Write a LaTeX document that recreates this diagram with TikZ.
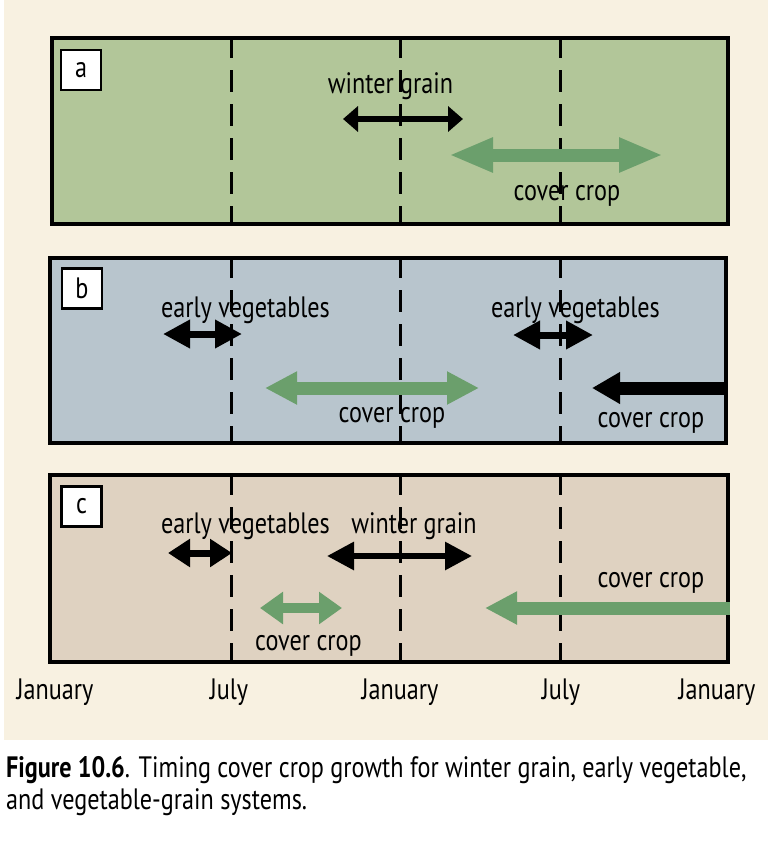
\documentclass[tikz,border=0pt]{standalone}
\usepackage{fontspec}
\setmainfont{PT Sans}[FakeStretch=0.82]
\usetikzlibrary{arrows.meta}
\definecolor{bgbeige}{HTML}{F8F1E1}
\definecolor{panelA}{HTML}{B2C699}
\definecolor{panelB}{HTML}{B8C5CD}
\definecolor{panelC}{HTML}{DFD2C1}
\definecolor{cgreen}{HTML}{6B9F6C}
\tikzset{
  panel/.style={draw=black, line width=3.3pt, inner sep=0pt, rectangle},
  tagbox/.style={draw=black, fill=white, line width=2.5pt, minimum width=40pt, minimum height=40pt, inner sep=0pt, font=\fontsize{29.5}{34}\selectfont},
  vdash/.style={draw=black, line width=3pt, dash pattern=on 22pt off 12pt},
  lab/.style={anchor=base, inner sep=0pt, font=\fontsize{29.5}{34}\selectfont},
  greenarrow/.style={draw=cgreen, line width=13pt},
  blackarrow/.style={draw=black, line width=6pt},
  captext/.style={anchor=base west, inner sep=0pt, font=\fontsize{29.5}{34}\selectfont},
}
\begin{document}
\begin{tikzpicture}[x=1pt,y=-1pt]
\useasboundingbox (0,0) rectangle (768,841);
\fill[bgbeige] (4,0) rectangle (768,740);

% panels
\node[panel, fill=panelA, minimum width=676pt, minimum height=186pt] (pa) at (390,131) {};
\node[panel, fill=panelB, minimum width=676pt, minimum height=185pt] (pb) at (388,350.5) {};
\node[panel, fill=panelC, minimum width=678pt, minimum height=187pt] (pc) at (389,568.5) {};

% month guide coordinates
\coordinate (g1) at (231,0);
\coordinate (g2) at (400,0);
\coordinate (g3) at (560,0);

% dashed lines
\foreach \p in {pa,pb,pc}{
  \foreach \g in {g1,g2,g3}{
    \draw[vdash] (\p.north -| \g) -- (\p.south -| \g);
  }
}

% tags
\node[tagbox] (ta) at (81,70) {a};
\node[tagbox] (tb) at (82,288.5) {b};
\node[tagbox] (tc) at (81.5,506.5) {c};

% ---- panel a ----
\coordinate (aw1) at (343,119);
\coordinate (aw2) at (463,119);
\draw[blackarrow, {Triangle[length=15pt,width=25pt]}-{Triangle[length=15pt,width=25pt]}] (aw1) -- (aw2);
\node[lab] (law) at (390.5,93) {winter grain};
\coordinate (ac1) at (449,155);
\coordinate (ac2) at (663,155);
\draw[greenarrow, {Triangle[length=44pt,width=32pt]}-{Triangle[length=44pt,width=32pt]}] (ac1) -- (ac2);
\node[lab] (lac) at (567,200) {cover crop};

% ---- panel b ----
\coordinate (be1) at (163,334);
\coordinate (be2) at (242,334);
\draw[blackarrow, line width=7pt, {Triangle[length=27pt,width=27pt]}-{Triangle[length=27pt,width=27pt]}] (be1) -- (be2);
\node[lab] (lbe) at (245.5,317) {early vegetables};
\coordinate (bc1) at (265,388);
\coordinate (bc2) at (479,388);
\draw[greenarrow, {Triangle[length=32pt,width=31pt]}-{Triangle[length=32pt,width=31pt]}] (bc1) -- (bc2);
\node[lab] (lbc) at (392,422) {cover crop};
\coordinate (bf1) at (513,335);
\coordinate (bf2) at (593,335);
\draw[blackarrow, line width=7pt, {Triangle[length=27pt,width=27pt]}-{Triangle[length=27pt,width=27pt]}] (bf1) -- (bf2);
\node[lab] (lbf) at (575.5,317) {early vegetables};
\coordinate (bk1) at (pb.east |- 0,388);
\coordinate (bk2) at (592,388);
\draw[blackarrow, line width=13pt, -{Triangle[length=28pt,width=30pt]}] (bk1) -- (bk2);
\node[lab] (lbk) at (651,427) {cover crop};

% ---- panel c ----
\coordinate (ce1) at (168,553);
\coordinate (ce2) at (232,553);
\draw[blackarrow, line width=7pt, {Triangle[length=22pt,width=27pt]}-{Triangle[length=22pt,width=27pt]}] (ce1) -- (ce2);
\node[lab] (lce) at (245.5,533) {early vegetables};
\coordinate (cw1) at (327,556);
\coordinate (cw2) at (472,556);
\draw[blackarrow, {Triangle[length=27pt,width=27pt]}-{Triangle[length=27pt,width=27pt]}] (cw1) -- (cw2);
\node[lab] (lcw) at (414,533) {winter grain};
\coordinate (cs1) at (260,608);
\coordinate (cs2) at (342,608);
\draw[greenarrow, line width=10pt, {Triangle[length=23pt,width=31pt]}-{Triangle[length=23pt,width=31pt]}] (cs1) -- (cs2);
\node[lab] (lcs) at (308.5,650) {cover crop};
\coordinate (cr1) at (pc.east |- 0,608);
\coordinate (cr2) at (485,608);
\draw[greenarrow, -{Triangle[length=32pt,width=31pt]}] (cr1) -- (cr2);
\node[lab] (lcr) at (651,587) {cover crop};

% months
\node[lab] (m1) at (55,699) {January};
\node[lab] (m2) at (229,699) {July};
\node[lab] (m3) at (400,699) {January};
\node[lab] (m4) at (561,699) {July};
\node[lab] (m5) at (717,699) {January};

% caption
\node[captext] (cap1) at (6,777) {\textbf{Figure 10.6}. Timing cover crop growth for winter grain, early vegetable,};
\node[captext] (cap2) at (6,809) {and vegetable-grain systems.};
\end{tikzpicture}
\end{document}
